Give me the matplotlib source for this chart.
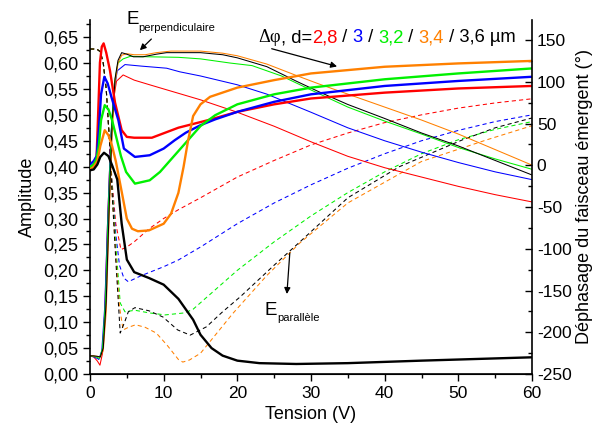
import matplotlib
matplotlib.use("Agg")
import matplotlib.pyplot as plt
from matplotlib.ticker import MultipleLocator, FuncFormatter
from matplotlib.offsetbox import TextArea, HPacker, AnnotationBbox

plt.rcParams["font.family"] = ["Liberation Sans", "DejaVu Sans"]
plt.rcParams["axes.unicode_minus"] = False

RED, BLUE, GREEN, ORANGE, BLACK = "#ff0000", "#0000ff", "#00f000", "#ff8000", "#000000"

# -----------------------------
# Phase (thick lines, right axis, degrees)
# -----------------------------
v_ph_red = [0, 0.5, 0.9, 1.1, 1.35, 1.6, 1.85, 2.2, 2.7, 3.4, 4.3, 5.0, 6, 8.4, 12, 16, 20, 25, 30, 40, 50, 60]
ph_red = [-2, 1, 11, 60, 123, 142, 146, 135, 114, 75, 42, 34, 33, 33, 45, 54, 64, 73, 80, 87, 92, 95]

v_ph_blue = [0, 0.5, 0.9, 1.2, 1.5, 1.95, 2.4, 2.9, 3.85, 4.6, 6.1, 8.1, 10, 11.5, 13, 15, 17, 20, 25, 30, 40, 50, 60]
ph_blue = [1, 5, 11, 42, 85, 106, 98, 82, 54, 20, 10, 12, 20, 30, 39, 48, 55, 64, 76, 85, 95, 101, 106]

v_ph_green = [0, 0.5, 0.9, 1.2, 1.5, 2.0, 2.5, 3.0, 3.5, 4.2, 4.9, 6.1, 8.1, 9.5, 10.9, 12, 13.3, 15, 17, 20, 25, 30, 40, 50, 60]
ph_green = [-2, 1, 8, 23, 54, 72, 67, 54, 36, 11, -8, -22, -18, -8, 6, 17, 30, 47, 60, 73, 85, 93, 103, 110, 116]

v_ph_orange = [0, 0.5, 1.0, 1.4, 2.0, 2.5, 3.0, 3.5, 4.2, 5.0, 5.7, 6.5, 8, 10, 11, 12, 12.7, 13.3, 14, 15, 16.3, 20, 25, 30, 40, 50, 60]
ph_orange = [-5, -2, 5, 23, 42, 36, 23, 5, -27, -64, -76, -79, -78, -70, -58, -33, -2, 29, 59, 73, 82, 93, 102, 110, 118, 122, 125]

v_ph_black = [0, 0.5, 1, 1.4, 1.9, 2.5, 3, 3.7, 4.3, 5, 6, 8, 10, 12, 14, 15, 16.5, 18, 20, 23, 28, 35, 45, 60]
ph_black = [-6, -5, 1, 10, 15, 11, 0, -17, -70, -113, -128, -135, -143, -160, -185, -203, -219, -228, -234, -237, -238, -237, -234, -230]

# -----------------------------
# E perpendiculaire (thin solid, left axis)
# -----------------------------
v_perp_red = [0, 0.5, 1.0, 1.35, 1.7, 2.0, 2.4, 2.8, 3.2, 3.6, 4.5, 6, 8.1, 10, 15, 20, 25, 30, 35, 40, 45, 50, 55, 60]
perp_red = [0.035, 0.033, 0.025, 0.017, 0.04, 0.12, 0.30, 0.45, 0.53, 0.565, 0.577, 0.567, 0.558, 0.55, 0.529, 0.505, 0.478, 0.448, 0.42, 0.398, 0.38, 0.362, 0.346, 0.332]

v_perp_blue = [0, 0.5, 1.0, 1.2, 1.6, 2.0, 2.4, 2.8, 3.2, 3.7, 4.75, 7, 10.4, 12.2, 15, 20, 24, 30, 35, 40, 45, 50, 55, 60]
perp_blue = [0.035, 0.033, 0.03, 0.028, 0.045, 0.13, 0.30, 0.45, 0.54, 0.585, 0.597, 0.594, 0.59, 0.583, 0.575, 0.558, 0.54, 0.505, 0.475, 0.45, 0.428, 0.408, 0.39, 0.375]

v_perp_green = [0, 0.5, 1.0, 1.3, 1.7, 2.1, 2.5, 2.9, 3.3, 3.8, 4.5, 5.5, 8, 12, 15, 19, 22, 26, 30, 35, 40, 45, 50, 55, 60]
perp_green = [0.035, 0.034, 0.032, 0.03, 0.05, 0.14, 0.32, 0.47, 0.56, 0.60, 0.608, 0.613, 0.612, 0.611, 0.608, 0.60, 0.595, 0.575, 0.548, 0.515, 0.488, 0.463, 0.437, 0.415, 0.395]

v_perp_orange = [0, 0.5, 1.0, 1.4, 1.8, 2.2, 2.6, 3.0, 3.4, 3.8, 4.3, 5, 6, 7.5, 9, 11, 15, 18, 20, 24, 28, 31, 35, 40, 45, 50, 55, 60]
perp_orange = [0.035, 0.035, 0.034, 0.033, 0.045, 0.12, 0.30, 0.46, 0.56, 0.60, 0.615, 0.618, 0.616, 0.616, 0.62, 0.623, 0.623, 0.619, 0.614, 0.598, 0.576, 0.56, 0.54, 0.515, 0.49, 0.463, 0.433, 0.403]

v_perp_black = [0, 0.5, 1.0, 1.4, 1.8, 2.2, 2.6, 3.0, 3.4, 3.8, 4.3, 5, 5.9, 7.2, 9, 10.4, 15, 18, 20, 24, 28, 31, 35, 40, 45, 50, 55, 60]
perp_black = [0.035, 0.035, 0.034, 0.033, 0.05, 0.14, 0.32, 0.48, 0.57, 0.605, 0.62, 0.617, 0.612, 0.612, 0.617, 0.62, 0.62, 0.616, 0.61, 0.593, 0.565, 0.545, 0.52, 0.493, 0.465, 0.44, 0.412, 0.384]

# -----------------------------
# E parallele (dashed, left axis)
# -----------------------------
v_par_red = [0, 0.5, 1.0, 1.4, 1.8, 2.2, 2.6, 3.0, 3.5, 4.2, 5, 6, 8, 10, 12, 15, 20, 25, 30, 35, 40, 45, 50, 55, 60]
par_red = [0.627, 0.627, 0.626, 0.622, 0.60, 0.55, 0.46, 0.37, 0.29, 0.24, 0.245, 0.255, 0.28, 0.30, 0.317, 0.34, 0.38, 0.412, 0.442, 0.465, 0.485, 0.50, 0.513, 0.523, 0.531]

v_par_blue = [0, 0.5, 1.0, 1.4, 1.8, 2.2, 2.6, 3.0, 3.5, 4.0, 4.6, 5.2, 7, 10, 12, 15, 20, 25, 30, 35, 40, 45, 50, 55, 60]
par_blue = [0.627, 0.627, 0.626, 0.622, 0.60, 0.55, 0.46, 0.36, 0.27, 0.21, 0.185, 0.178, 0.19, 0.207, 0.22, 0.245, 0.29, 0.33, 0.365, 0.397, 0.425, 0.45, 0.47, 0.487, 0.50]

v_par_green = [0, 0.5, 1.0, 1.4, 1.8, 2.2, 2.6, 3.0, 3.5, 4.1, 4.75, 6.1, 8, 10.2, 12.9, 14, 16, 20, 25, 30, 35, 40, 45, 50, 55, 60]
par_green = [0.627, 0.627, 0.626, 0.622, 0.60, 0.55, 0.46, 0.36, 0.25, 0.137, 0.12, 0.123, 0.118, 0.114, 0.118, 0.125, 0.15, 0.2, 0.255, 0.305, 0.35, 0.39, 0.425, 0.452, 0.472, 0.487]

v_par_orange = [0, 0.5, 1.0, 1.4, 1.8, 2.2, 2.6, 3.0, 3.5, 4.0, 4.5, 5.2, 6.2, 7.5, 9, 10.5, 12, 12.6, 13.5, 15, 17, 19.4, 24, 28.5, 35, 45, 53.9, 60]
par_orange = [0.627, 0.627, 0.626, 0.622, 0.60, 0.55, 0.46, 0.35, 0.23, 0.13, 0.085, 0.09, 0.095, 0.09, 0.079, 0.055, 0.028, 0.023, 0.027, 0.04, 0.075, 0.117, 0.19, 0.253, 0.33, 0.41, 0.452, 0.479]

v_par_black = [0, 0.5, 1.0, 1.4, 1.8, 2.2, 2.6, 3.0, 3.5, 4.1, 4.7, 5.2, 6.1, 8, 9.9, 11.9, 13.6, 15.8, 18, 20.4, 25, 28.5, 35, 42, 50.6, 55, 60]
par_black = [0.627, 0.627, 0.626, 0.622, 0.60, 0.55, 0.46, 0.35, 0.22, 0.079, 0.10, 0.12, 0.128, 0.122, 0.11, 0.085, 0.075, 0.091, 0.12, 0.149, 0.21, 0.255, 0.34, 0.40, 0.452, 0.475, 0.494]

# -----------------------------
# Figure
# -----------------------------
fig = plt.figure(figsize=(5.96, 4.30), dpi=100)
ax = fig.add_axes([90 / 596, 56 / 430, 442 / 596, 354 / 430])
ax2 = ax.twinx()

thin = 0.75
dash = (4, 3)

par_sets = [(v_par_red, par_red, RED), (v_par_blue, par_blue, BLUE), (v_par_green, par_green, GREEN),
            (v_par_orange, par_orange, ORANGE), (v_par_black, par_black, BLACK)]
for vx, vy, c in par_sets:
    ax.plot(vx, vy, color=c, lw=thin, dashes=dash)

perp_sets = [(v_perp_red, perp_red, RED), (v_perp_blue, perp_blue, BLUE), (v_perp_green, perp_green, GREEN),
             (v_perp_orange, perp_orange, ORANGE), (v_perp_black, perp_black, BLACK)]
for vx, vy, c in perp_sets:
    ax.plot(vx, vy, color=c, lw=thin)

ph_sets = [(v_ph_red, ph_red, RED), (v_ph_blue, ph_blue, BLUE), (v_ph_green, ph_green, GREEN),
           (v_ph_orange, ph_orange, ORANGE), (v_ph_black, ph_black, BLACK)]
for vx, vy, c in ph_sets:
    ax2.plot(vx, vy, color=c, lw=1.7)

# -----------------------------
# Axes styling
# -----------------------------
ax.set_xlim(0, 60)
ax.set_ylim(0, 0.683)
ax2.set_ylim(-250, 174)

for a in (ax, ax2):
    a.spines["top"].set_visible(False)
ax.spines["right"].set_visible(False)
ax2.spines["left"].set_visible(False)

ax.xaxis.set_major_locator(MultipleLocator(10))
ax.xaxis.set_minor_locator(MultipleLocator(5))
ax.yaxis.set_major_locator(MultipleLocator(0.05))
ax.yaxis.set_minor_locator(MultipleLocator(0.025))
ax.yaxis.set_major_formatter(FuncFormatter(lambda v, p: f"{v:.2f}".replace(".", ",")))
ax2.yaxis.set_major_locator(MultipleLocator(50))
ax2.yaxis.set_minor_locator(MultipleLocator(25))

ax.tick_params(axis="both", which="major", direction="out", length=5, width=1)
ax.tick_params(axis="both", which="minor", direction="out", length=3, width=1)
ax.tick_params(axis="y", labelsize=13)
ax.tick_params(axis="x", labelsize=12.5)
ax2.tick_params(axis="y", which="major", direction="in", length=5, width=1, labelsize=12.5)
ax2.tick_params(axis="y", which="minor", direction="in", length=3, width=1)

for s in ("left", "bottom"):
    ax.spines[s].set_linewidth(1.2)
ax2.spines["right"].set_linewidth(1.2)

ax.set_xlabel("Tension (V)", fontsize=13, labelpad=4)
ax.set_ylabel("Amplitude", fontsize=13, labelpad=5)
ax2.set_ylabel("Déphasage du faisceau émergent (°)", fontsize=13, labelpad=3)

# -----------------------------
# Annotations
# -----------------------------
ax.text(5.0, 0.675, "E", fontsize=13.5, ha="left", va="baseline", clip_on=False)
ax.text(6.5, 0.662, "perpendiculaire", fontsize=8, ha="left", va="baseline", clip_on=False)
ax.annotate("", xy=(6.5, 0.621), xytext=(8.6, 0.650),
            arrowprops=dict(arrowstyle="-|>", color="black", lw=0.9, mutation_scale=9))

ax.text(23.75, 0.114, "E", fontsize=13.5, ha="left", va="baseline")
ax.text(25.4, 0.102, "parallèle", fontsize=8, ha="left", va="baseline")
ax.annotate("", xy=(26.7, 0.149), xytext=(27.15, 0.239),
            arrowprops=dict(arrowstyle="-|>", color="black", lw=0.9, mutation_scale=9))

ax.annotate("", xy=(33.9, 0.592), xytext=(24.3, 0.629),
            arrowprops=dict(arrowstyle="-|>", color="black", lw=0.9, mutation_scale=9))

pieces = [("Δφ", BLACK, "Liberation Serif"), (", d=", BLACK, None), ("2,8", RED, None),
          (" / ", BLACK, None), ("3", BLUE, None), (" / ", BLACK, None), ("3,2", GREEN, None),
          (" / ", BLACK, None), ("3,4", ORANGE, None), (" / 3,6 µm", BLACK, None)]
areas = []
for txt, c, fam in pieces:
    props = dict(color=c, fontsize=13.2)
    if fam:
        props["family"] = fam
    areas.append(TextArea(txt, textprops=props))
pack = HPacker(children=areas, align="baseline", pad=0, sep=0)
ab = AnnotationBbox(pack, (22.8, 0.632), xycoords="data", box_alignment=(0, 0),
                    frameon=False, pad=0, annotation_clip=False)
ax.add_artist(ab)

fig.savefig("out.png", dpi=100)
